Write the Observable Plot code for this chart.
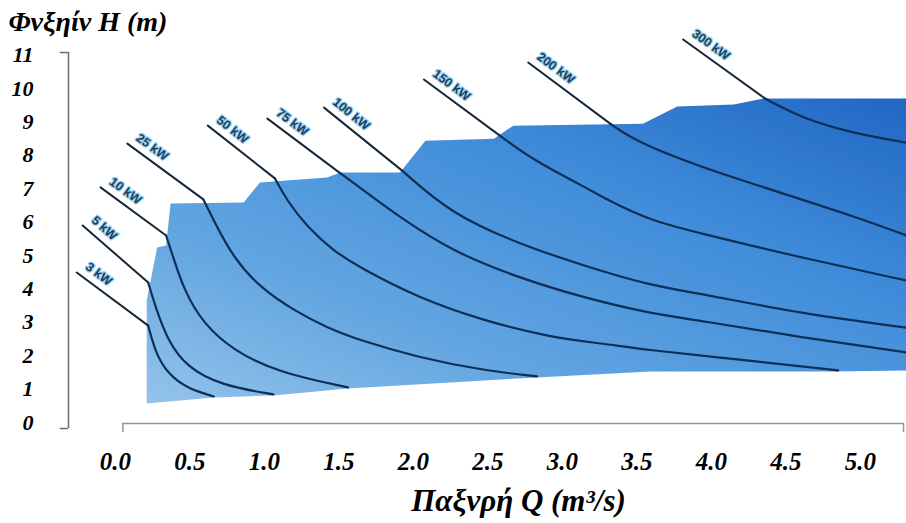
<!DOCTYPE html>
<html>
<head>
<meta charset="utf-8">
<script src="https://cdn.jsdelivr.net/npm/d3@7"></script>
<script src="https://cdn.jsdelivr.net/npm/@observablehq/plot@0.6"></script>
<style>
  body { margin: 0; background: #ffffff; }
  #chart { width: 906px; height: 523px; }
</style>
</head>
<body>
<div id="chart"></div>
<script>
// ---- Text ----
const yTitle = "Φνξηίν H (m)";
const xTitle = "Παξνρή Q (m³/s)";
const xTicks = [0, 0.5, 1, 1.5, 2, 2.5, 3, 3.5, 4, 4.5, 5];
const yTicks = [0, 1, 2, 3, 4, 5, 6, 7, 8, 9, 10, 11];

// ---- Operating envelope (Q in m3/s, H in m) ----
const envTopQ = [0.21, 0.21, 0.28, 0.34, 0.37, 0.86, 0.97, 1.42, 1.51, 1.91, 2.08, 2.54, 2.67, 3.54, 3.77, 4.15, 4.35, 5.31];
const envTopH = [0.57, 3.65, 5.24, 5.30, 6.56, 6.59, 7.19, 7.34, 7.49, 7.49, 8.44, 8.50, 8.89, 8.95, 9.46, 9.52, 9.70, 9.70];
const envBottomQ = [5.31, 4.82, 3.59, 2.83, 1.56, 1.06, 0.66];
const envBottomH = [1.56, 1.53, 1.53, 1.35, 1.02, 0.81, 0.75];

// ---- Constant power curves (first point = label end of leader line) ----
const powerLabels = ["3 kW", "5 kW", "10 kW", "25 kW", "50 kW", "75 kW", "100 kW", "150 kW", "200 kW", "300 kW"];
const q3   = [-0.26, 0.22, 0.27, 0.35, 0.48, 0.66];
const h3   = [4.49, 2.90, 2.07, 1.47, 1.02, 0.78];
const q5   = [-0.22, 0.22, 0.27, 0.35, 0.48, 0.71, 1.06];
const h5   = [5.90, 4.19, 3.44, 2.46, 1.65, 1.11, 0.84];
const q10  = [-0.10, 0.34, 0.38, 0.46, 0.59, 0.79, 1.09, 1.56];
const h10  = [7.04, 5.60, 5.06, 3.95, 2.96, 2.16, 1.50, 1.05];
const q25  = [0.08, 0.59, 0.66, 0.79, 0.97, 1.20, 1.42, 1.64, 2.03, 2.47, 2.83];
const h25  = [8.35, 6.68, 6.05, 4.94, 4.04, 3.35, 2.84, 2.46, 1.95, 1.56, 1.38];
const q50  = [0.62, 1.07, 1.15, 1.29, 1.46, 1.64, 2.03, 2.47, 2.92, 3.26, 3.59, 3.93, 4.85];
const h50  = [8.89, 7.31, 6.65, 5.84, 5.15, 4.64, 3.74, 3.05, 2.55, 2.37, 2.16, 2.01, 1.56];
const q75  = [1.02, 1.51, 1.64, 1.91, 2.25, 2.70, 3.14, 3.59, 3.93, 4.60, 5.31];
const h75  = [9.10, 7.46, 7.04, 6.14, 5.15, 4.34, 3.74, 3.26, 3.05, 2.55, 2.10];
const q100 = [1.40, 1.93, 2.25, 2.70, 3.14, 3.59, 3.93, 4.60, 5.31];
const h100 = [9.43, 7.52, 6.26, 5.36, 4.70, 4.10, 3.86, 3.26, 2.84];
const q150 = [2.07, 2.58, 2.81, 3.14, 3.32, 3.59, 3.93, 4.60, 5.31];
const h150 = [10.27, 8.59, 7.84, 7.08, 6.62, 6.05, 5.66, 4.94, 4.25];
const q200 = [2.77, 3.32, 3.48, 3.93, 4.48, 4.98, 5.31];
const h200 = [10.78, 8.95, 8.44, 7.64, 6.86, 6.14, 5.60];
const q300 = [3.81, 4.36, 4.60, 4.93, 5.31];
const h300 = [11.47, 9.70, 9.13, 8.68, 8.38];

const seriesQ = [q3, q5, q10, q25, q50, q75, q100, q150, q200, q300];
const seriesH = [h3, h5, h10, h25, h50, h75, h100, h150, h200, h300];

// ---- Build tables for the library ----
const envelope = [
  ...envTopQ.map((q, i) => ({q, h: envTopH[i]})),
  ...envBottomQ.map((q, i) => ({q, h: envBottomH[i]}))
];

const xDomain = [-0.315, 5.309];
const yDomain = [-0.18, 11.08];
const xRange = [68, 906];
const yRange = [428, 52];
const kx = (xRange[1] - xRange[0]) / (xDomain[1] - xDomain[0]);
const ky = (yRange[0] - yRange[1]) / (yDomain[1] - yDomain[0]);

const leaders = [], curves = [], labels = [];
powerLabels.forEach((label, s) => {
  const Q = seriesQ[s], H = seriesH[s];
  leaders.push({label, q: Q[0], h: H[0]}, {label, q: Q[1], h: H[1]});
  for (let i = 1; i < Q.length; i++) curves.push({label, q: Q[i], h: H[i]});
  const rot = Math.atan2((H[0] - H[1]) * ky, (Q[1] - Q[0]) * kx) * 180 / Math.PI;
  labels.push({label, q: Q[0], h: H[0], rot});
});

const serif = "'Liberation Serif', 'Times New Roman', serif";

const gradientDefs = () => {
  const defs = d3.create("svg:defs");
  const g = defs.append("linearGradient")
    .attr("id", "envGrad")
    .attr("x1", 0).attr("y1", 1).attr("x2", 1).attr("y2", 0);
  g.append("stop").attr("offset", "0%").attr("stop-color", "#94c3ea");
  g.append("stop").attr("offset", "30%").attr("stop-color", "#62a5e1");
  g.append("stop").attr("offset", "65%").attr("stop-color", "#418dda");
  g.append("stop").attr("offset", "100%").attr("stop-color", "#2067c3");
  return defs.node();
};

const chart = Plot.plot({
  width: 906,
  height: 523,
  marginLeft: 68,
  marginRight: 0,
  marginTop: 52,
  marginBottom: 95,
  x: {domain: xDomain, range: xRange},
  y: {domain: yDomain, range: yRange},
  style: {background: "#ffffff", overflow: "visible"},
  marks: [
    gradientDefs,
    // envelope
    Plot.line(envelope, {x: "q", y: "h", curve: "linear-closed", fill: "url(#envGrad)", stroke: "none"}),
    // axis frame lines
    Plot.ruleX([xDomain[0]], {y1: yDomain[0], y2: yDomain[1], stroke: "#5f6c70", strokeWidth: 1.5}),
    Plot.ruleY([yDomain[0], yDomain[1]], {x1: xDomain[0] - 0.055, x2: xDomain[0], stroke: "#5f6c70", strokeWidth: 1.5}),
    Plot.ruleY([-0.03], {x1: 0.05, x2: xDomain[1] - 0.02, stroke: "#8e989c", strokeWidth: 1.5}),
    Plot.ruleX([0.05, xDomain[1] - 0.02], {y1: -0.3, y2: -0.03, stroke: "#8e989c", strokeWidth: 1.5}),
    // power curves
    Plot.line(leaders, {x: "q", y: "h", z: "label", stroke: "#16283c", strokeWidth: 2}),
    Plot.line(curves, {x: "q", y: "h", z: "label", stroke: "#0c2f57", strokeWidth: 2.2, curve: "basis"}),
    Plot.text(labels, {
      x: "q", y: "h", text: "label", rotate: "rot",
      textAnchor: "start", lineAnchor: "bottom", dx: 8, dy: -4,
      fontFamily: "'Liberation Sans', Arial, sans-serif", fontWeight: "bold", fontSize: 12.5,
      fill: "#1d3c5c", stroke: "#9ad4f2", strokeWidth: 2.5, paintOrder: "stroke",
      letterSpacing: 2
    }),
    // axes
    Plot.axisY({
      ticks: yTicks, tickSize: 0, tickPadding: 35, tickFormat: d3.format("d"),
      fontFamily: serif, fontWeight: "bold", fontStyle: "italic", fontSize: 22, fill: "#000", label: null
    }),
    Plot.axisX({
      ticks: xTicks, tickSize: 0, tickPadding: 24, tickFormat: d3.format(".1f"),
      fontFamily: serif, fontWeight: "bold", fontStyle: "italic", fontSize: 25, fill: "#000", label: null
    }),
    // titles
    Plot.text([yTitle], {
      frameAnchor: "top-left", textAnchor: "start", lineAnchor: "bottom", dx: -60, dy: -22,
      fontFamily: serif, fontWeight: "bold", fontStyle: "italic", fontSize: 28, fill: "#000"
    }),
    Plot.text([xTitle], {
      frameAnchor: "bottom", textAnchor: "middle", lineAnchor: "bottom", dx: 31, dy: 82,
      fontFamily: serif, fontWeight: "bold", fontStyle: "italic", fontSize: 31, fill: "#000"
    })
  ]
});
document.getElementById("chart").appendChild(chart);
</script>
</body>
</html>
